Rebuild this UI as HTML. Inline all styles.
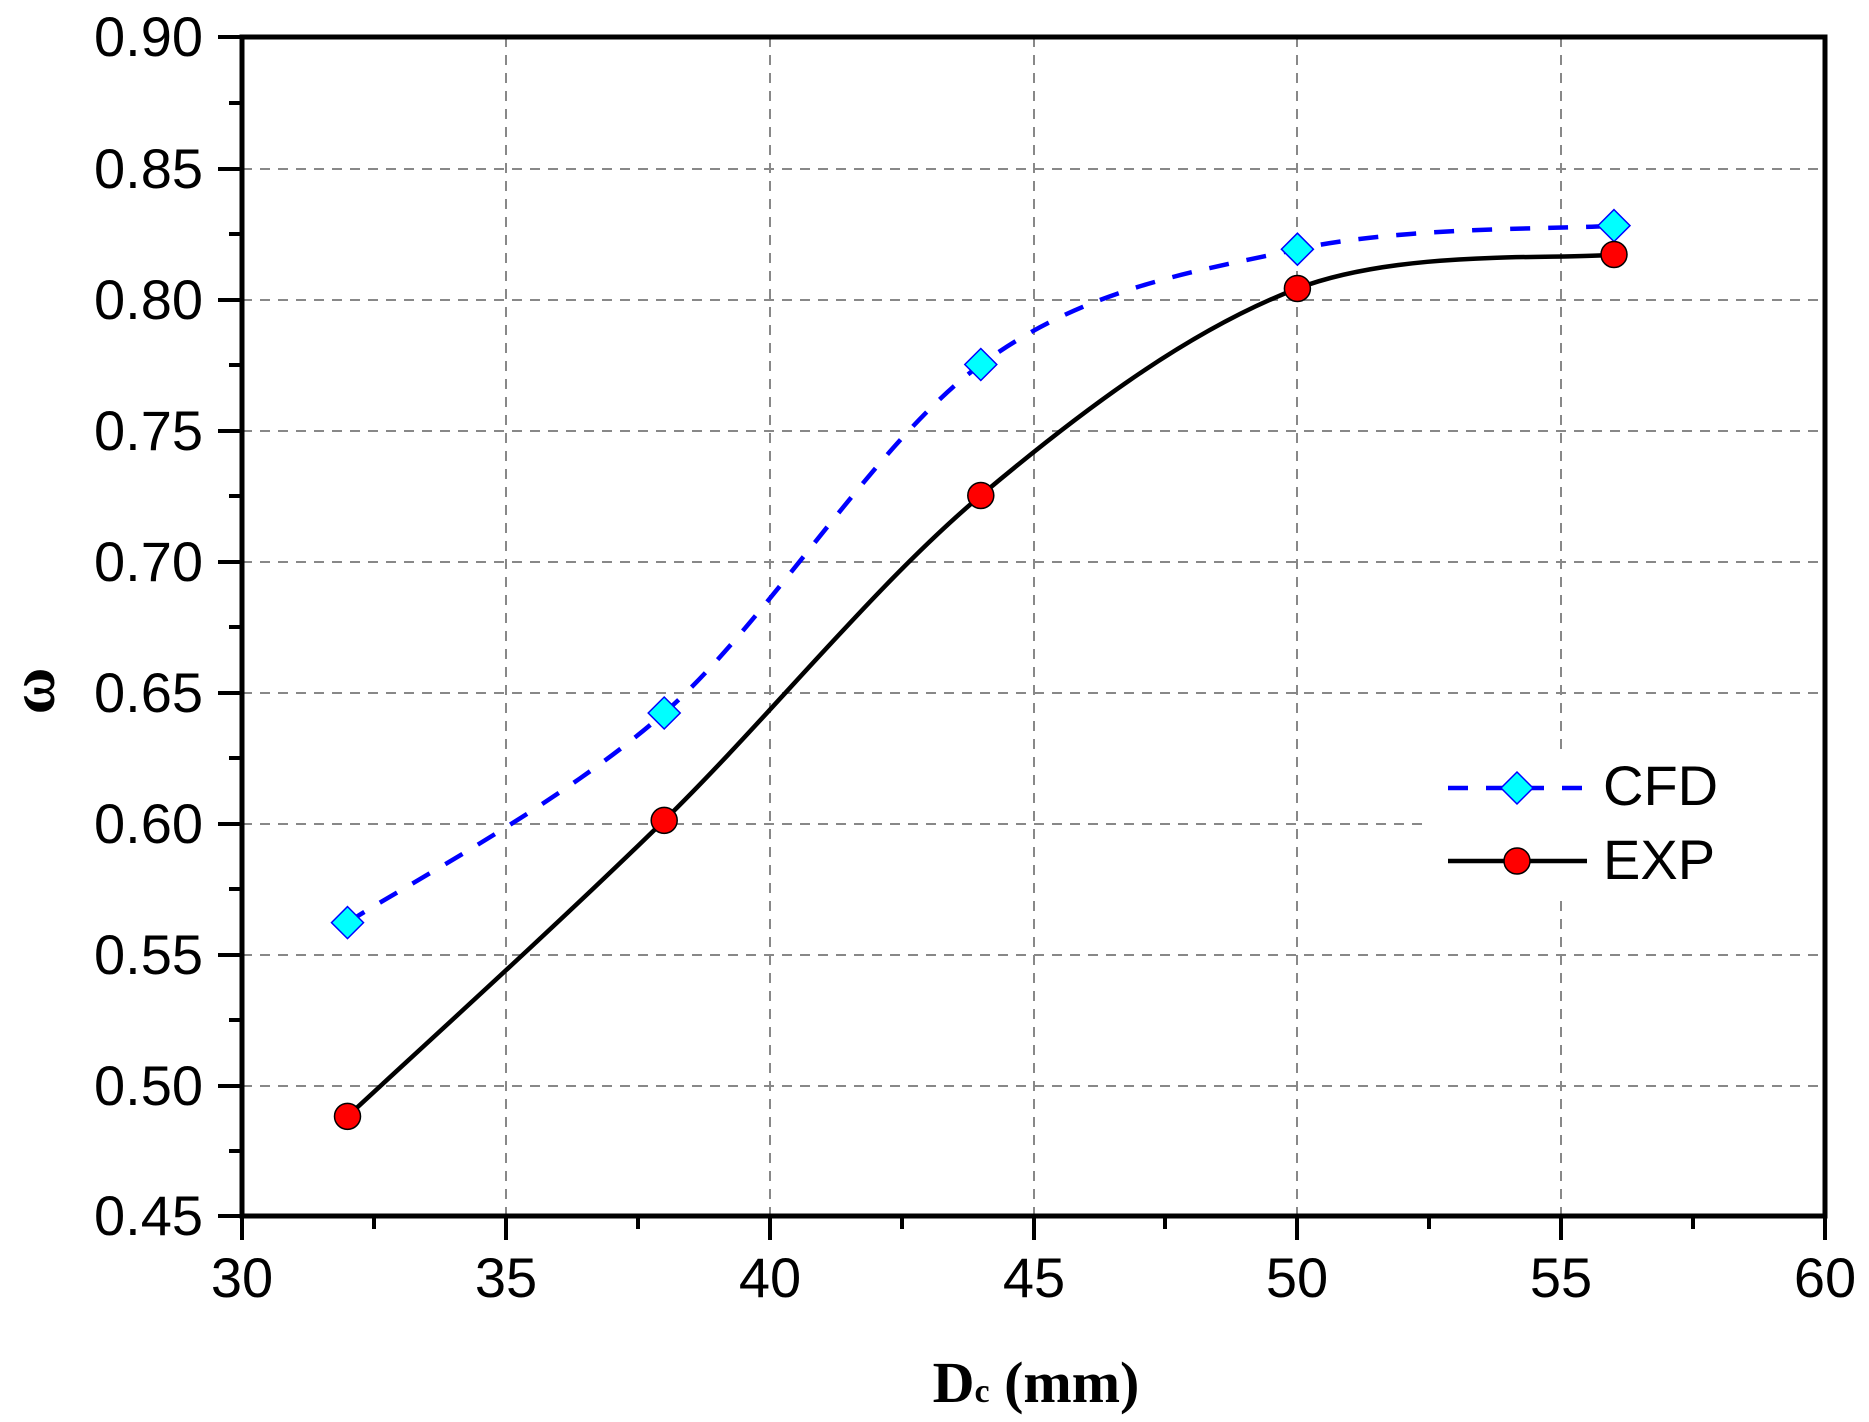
<!DOCTYPE html>
<html><head><meta charset="utf-8"><style>html,body{margin:0;padding:0;background:#fff}svg{display:block}</style></head>
<body>
<svg width="1869" height="1422" viewBox="0 0 1869 1422" xmlns="http://www.w3.org/2000/svg">
<rect width="1869" height="1422" fill="#fff"/>
<g stroke="#888" stroke-width="2" stroke-dasharray="10,8">
<line x1="242" y1="169" x2="1825" y2="169"/>
<line x1="242" y1="300" x2="1825" y2="300"/>
<line x1="242" y1="431" x2="1825" y2="431"/>
<line x1="242" y1="562" x2="1825" y2="562"/>
<line x1="242" y1="693" x2="1825" y2="693"/>
<line x1="242" y1="824" x2="1825" y2="824"/>
<line x1="242" y1="955" x2="1825" y2="955"/>
<line x1="242" y1="1086" x2="1825" y2="1086"/>
<line x1="506" y1="37" x2="506" y2="1216"/>
<line x1="770" y1="37" x2="770" y2="1216"/>
<line x1="1034" y1="37" x2="1034" y2="1216"/>
<line x1="1297" y1="37" x2="1297" y2="1216"/>
<line x1="1561" y1="37" x2="1561" y2="1216"/>
</g>
<rect x="1425" y="755" width="396" height="140" fill="#fff"/>
<path d="M347.5,922.6 C400.3,887.7 558.6,806 664.2,713 C769.8,620 875.3,441.8 980.8,364.5 C1086.3,287.2 1191.9,272.4 1297.4,249.2 C1402.9,226 1561.2,229.5 1614,225.6" fill="none" stroke="#0000ff" stroke-width="4.5" stroke-dasharray="20,18"/>
<path d="M347.5,1116.4 C400.3,1067.1 558.6,923.9 664.2,820.4 C769.8,716.9 875.3,584.2 980.8,495.5 C1086.3,406.8 1191.9,328.7 1297.4,288.5 C1402.9,248.3 1561.2,260.2 1614,254.5" fill="none" stroke="#000" stroke-width="4.5"/>
<g fill="#00ffff" stroke="#0000ff" stroke-width="1.5">
<polygon points="347.5,906.6 363.5,922.6 347.5,938.6 331.5,922.6"/>
<polygon points="664.2,697 680.2,713 664.2,729 648.2,713"/>
<polygon points="980.8,348.5 996.8,364.5 980.8,380.5 964.8,364.5"/>
<polygon points="1297.4,233.2 1313.4,249.2 1297.4,265.2 1281.4,249.2"/>
<polygon points="1614,209.6 1630,225.6 1614,241.6 1598,225.6"/>
</g>
<g fill="#ff0000" stroke="#000" stroke-width="1.5">
<circle cx="347.5" cy="1116.4" r="13"/>
<circle cx="664.2" cy="820.4" r="13"/>
<circle cx="980.8" cy="495.5" r="13"/>
<circle cx="1297.4" cy="288.5" r="13"/>
<circle cx="1614" cy="254.5" r="13"/>
</g>
<line x1="1448" y1="788" x2="1587" y2="788" stroke="#0000ff" stroke-width="4.5" stroke-dasharray="20,18"/>
<polygon points="1517,772 1533,788 1517,804 1501,788" fill="#00ffff" stroke="#0000ff" stroke-width="1.5"/>
<line x1="1448" y1="861" x2="1587" y2="861" stroke="#000" stroke-width="4.5"/>
<circle cx="1517" cy="861" r="13" fill="#ff0000" stroke="#000" stroke-width="1.5"/>
<g font-family="Liberation Sans, sans-serif" font-size="56" fill="#000">
<text x="1603" y="805">CFD</text>
<text x="1603" y="879">EXP</text>
</g>
<rect x="242" y="37" width="1583" height="1179" fill="none" stroke="#000" stroke-width="5"/>
<g stroke="#000" stroke-width="4">
<line x1="218" y1="37" x2="242" y2="37"/><line x1="218" y1="169" x2="242" y2="169"/><line x1="218" y1="300" x2="242" y2="300"/><line x1="218" y1="431" x2="242" y2="431"/><line x1="218" y1="562" x2="242" y2="562"/><line x1="218" y1="693" x2="242" y2="693"/><line x1="218" y1="824" x2="242" y2="824"/><line x1="218" y1="955" x2="242" y2="955"/><line x1="218" y1="1086" x2="242" y2="1086"/><line x1="218" y1="1216" x2="242" y2="1216"/>
<line x1="229" y1="103" x2="242" y2="103"/><line x1="229" y1="234" x2="242" y2="234"/><line x1="229" y1="365" x2="242" y2="365"/><line x1="229" y1="496" x2="242" y2="496"/><line x1="229" y1="627" x2="242" y2="627"/><line x1="229" y1="758" x2="242" y2="758"/><line x1="229" y1="889" x2="242" y2="889"/><line x1="229" y1="1020" x2="242" y2="1020"/><line x1="229" y1="1151" x2="242" y2="1151"/>
<line x1="242" y1="1216" x2="242" y2="1240"/><line x1="506" y1="1216" x2="506" y2="1240"/><line x1="770" y1="1216" x2="770" y2="1240"/><line x1="1034" y1="1216" x2="1034" y2="1240"/><line x1="1297" y1="1216" x2="1297" y2="1240"/><line x1="1561" y1="1216" x2="1561" y2="1240"/><line x1="1825" y1="1216" x2="1825" y2="1240"/>
<line x1="374" y1="1216" x2="374" y2="1229"/><line x1="638" y1="1216" x2="638" y2="1229"/><line x1="902" y1="1216" x2="902" y2="1229"/><line x1="1165" y1="1216" x2="1165" y2="1229"/><line x1="1429" y1="1216" x2="1429" y2="1229"/><line x1="1693" y1="1216" x2="1693" y2="1229"/>
</g>
<g font-family="Liberation Sans, sans-serif" font-size="56" fill="#000" text-anchor="end">
<text x="203" y="56">0.90</text><text x="203" y="188">0.85</text><text x="203" y="319">0.80</text><text x="203" y="450">0.75</text><text x="203" y="581">0.70</text><text x="203" y="712">0.65</text><text x="203" y="843">0.60</text><text x="203" y="974">0.55</text><text x="203" y="1105">0.50</text><text x="203" y="1235">0.45</text>
</g>
<g font-family="Liberation Sans, sans-serif" font-size="56" fill="#000" text-anchor="middle">
<text x="242" y="1297">30</text><text x="506" y="1297">35</text><text x="770" y="1297">40</text><text x="1034" y="1297">45</text><text x="1297" y="1297">50</text><text x="1561" y="1297">55</text><text x="1825" y="1297">60</text>
</g>
<text x="1036" y="1402" font-family="Liberation Serif, serif" font-weight="bold" font-size="58" text-anchor="middle">D<tspan font-size="34">c</tspan> (mm)</text>
<text transform="translate(54,691) rotate(-90)" font-family="Liberation Serif, serif" font-weight="bold" font-size="64" text-anchor="middle">ω</text>
</svg>
</body></html>
